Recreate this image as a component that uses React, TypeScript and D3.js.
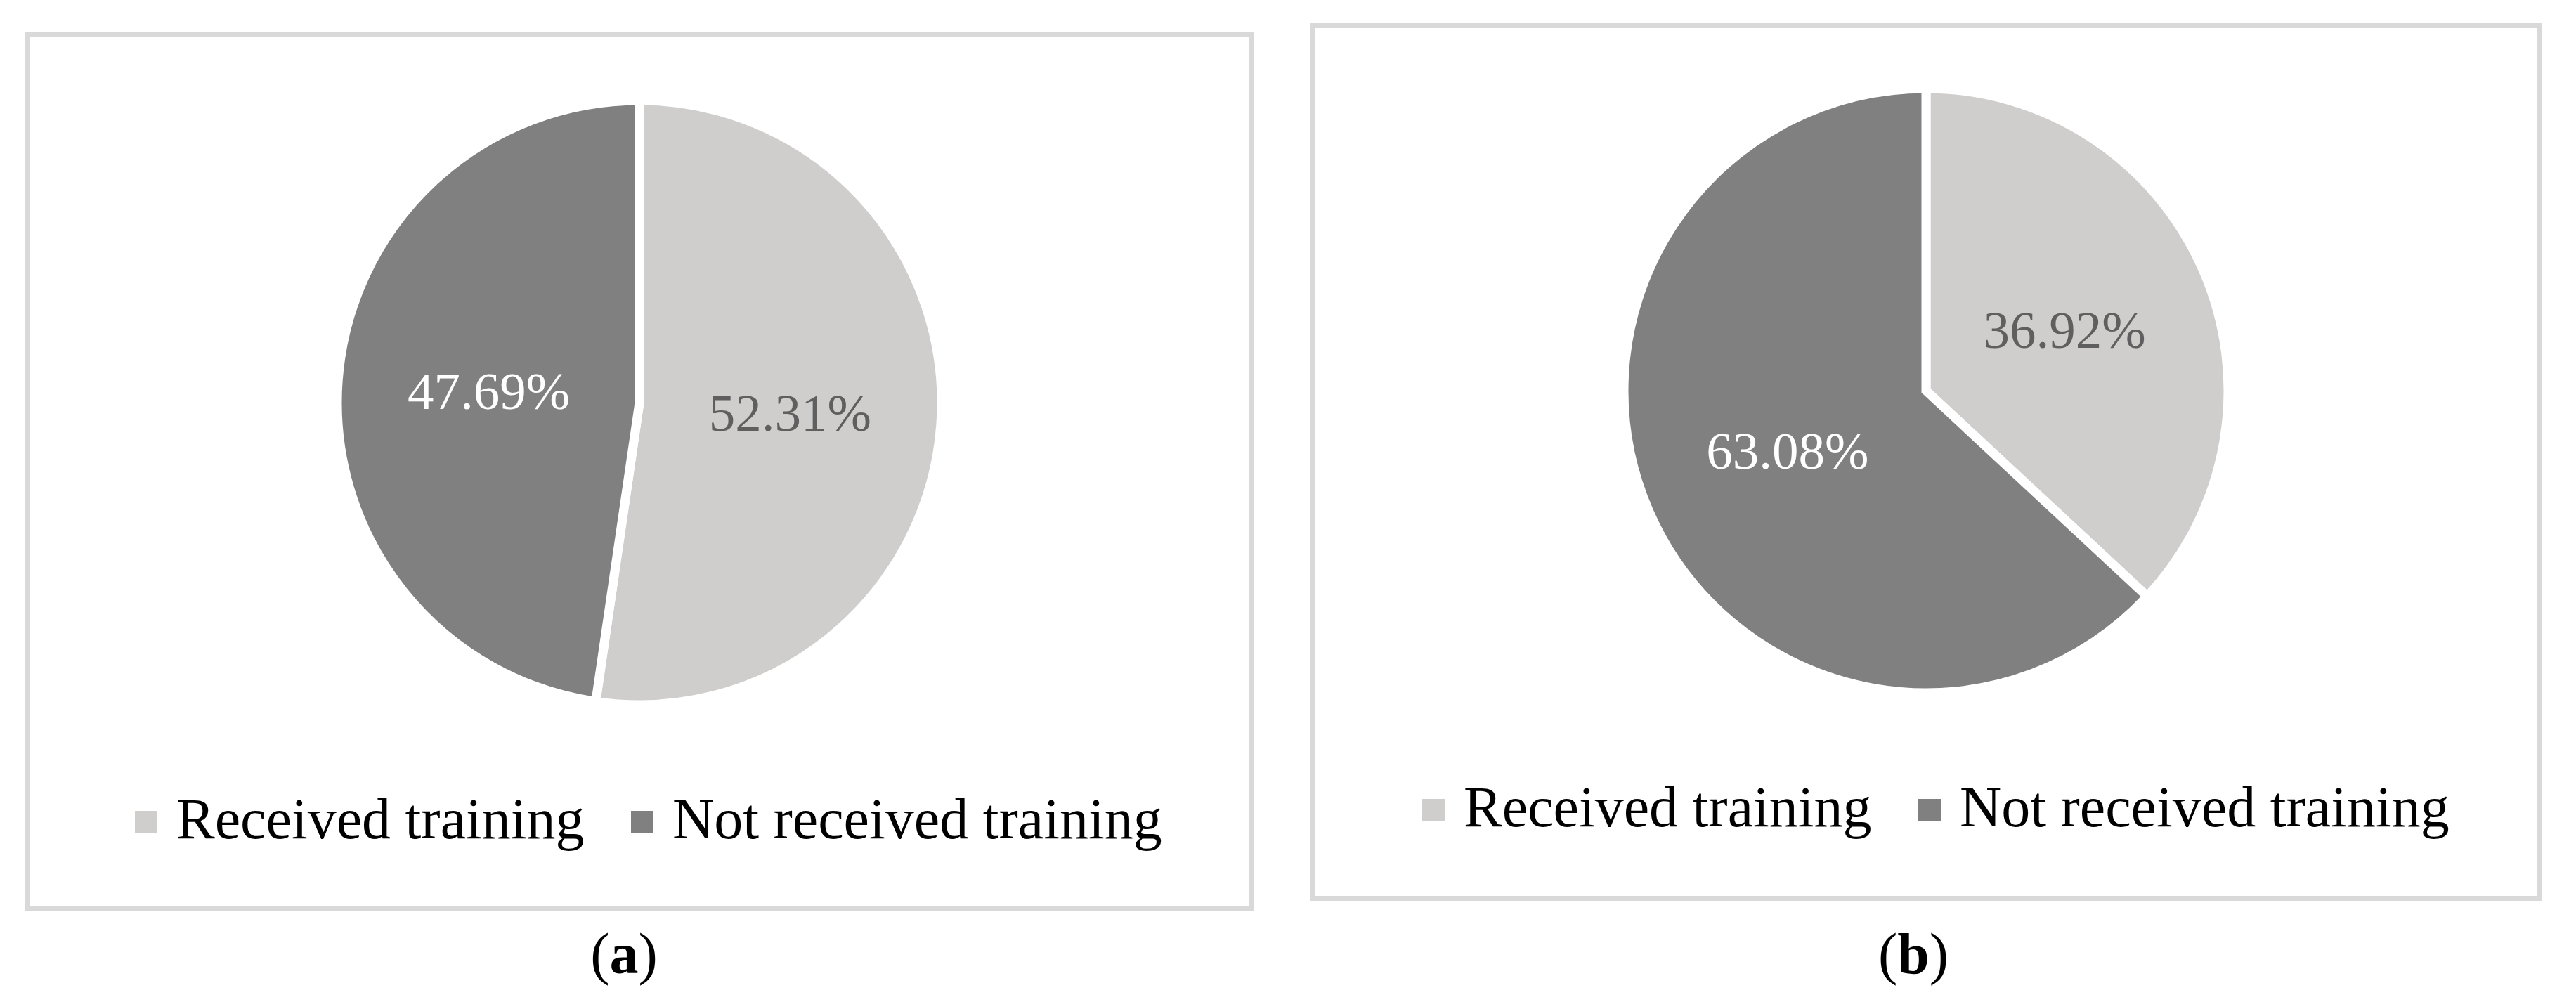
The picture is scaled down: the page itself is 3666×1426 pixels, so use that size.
import React from 'react';
import * as d3 from 'd3';

// Data
const categories = ['Received training', 'Not received training'];
const valuesA = [52.31, 47.69];
const valuesB = [36.92, 63.08];
const panelLetters = ['a', 'b'];

const sliceColors = ['#D0CECD', '#808080'];
const labelColors = ['#5F5F5F', '#FFFFFF'];

const FONT = '"Liberation Serif", "Times New Roman", serif';

// Layout of each panel (pixels in the 3666x1426 page)
const panels = [
  {
    values: valuesA,
    box: { x: 38.5, y: 49.5, w: 1743, h: 1244 },
    cx: 910, cy: 573,
    legendX: 192, legendY: 1154, legendBase: 1193,
    captionX: 888, captionBase: 1385,
  },
  {
    values: valuesB,
    box: { x: 1867.5, y: 36.5, w: 1746, h: 1242 },
    cx: 2741, cy: 556,
    legendX: 2024, legendY: 1137, legendBase: 1176,
    captionX: 2723, captionBase: 1385,
  },
];

const R = 430;
const legendItemOffsets = [0, 706];

const pie = d3.pie<number>().sort(null).value(d => d).startAngle(0).endAngle(2 * Math.PI);
const arc = d3.arc<d3.PieArcDatum<number>>().innerRadius(0).outerRadius(R);
const fmt = d3.format('.2f');

const Panel = ({ p, letter }: { p: typeof panels[0]; letter: string }) => {
  const arcs = pie(p.values);
  return (
    <g>
      <rect x={p.box.x} y={p.box.y} width={p.box.w} height={p.box.h}
        fill="#fff" stroke="#D9D9D9" strokeWidth={7} />
      <g transform={`translate(${p.cx},${p.cy})`}>
        {arcs.map((a, i) => (
          <path key={i} d={arc(a) || ''} fill={sliceColors[i]} stroke="#fff" strokeWidth={13} strokeLinejoin="miter" />
        ))}
        {arcs.map((a, i) => {
          const [x, y] = arc.centroid(a);
          return (
            <text key={'l' + i} x={x} y={y} dy="0.33em" textAnchor="middle"
              fontFamily={FONT} fontSize={75} fill={labelColors[i]}>
              {fmt(a.data) + '%'}
            </text>
          );
        })}
      </g>
      {categories.map((c, i) => (
        <g key={c} transform={`translate(${p.legendX + legendItemOffsets[i]},0)`}>
          <rect x={0} y={p.legendY} width={32} height={32} fill={sliceColors[i]} />
          <text x={59} y={p.legendBase} fontFamily={FONT} fontSize={82} fill="#000">{c}</text>
        </g>
      ))}
      <text x={p.captionX} y={p.captionBase} textAnchor="middle" fontFamily={FONT} fontSize={82} fill="#000">
        (<tspan fontWeight="bold">{letter}</tspan>)
      </text>
    </g>
  );
};

export default function App() {
  return (
    <svg width={3666} height={1426} style={{ position: 'absolute', left: 0, top: 0, background: '#fff' }}>
      <rect width={3666} height={1426} fill="#fff" />
      {panels.map((p, i) => (
        <Panel key={i} p={p} letter={panelLetters[i]} />
      ))}
    </svg>
  );
}
